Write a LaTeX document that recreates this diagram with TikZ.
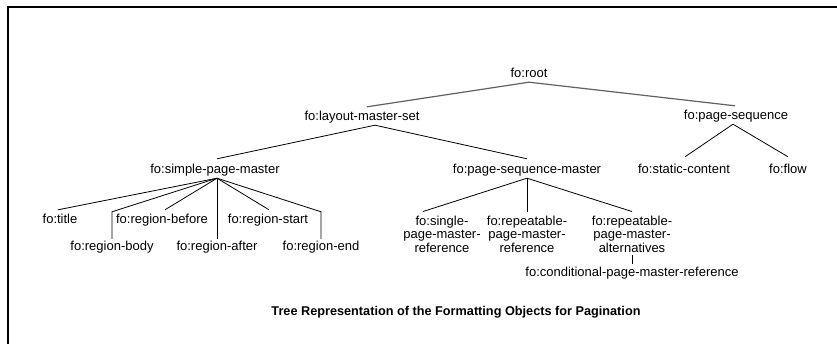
\documentclass[tikz,border=0pt]{standalone}
\usepackage{fontspec}
\setmainfont{Liberation Sans}
\begin{document}
\begin{tikzpicture}[x=1pt,y=-1pt,
  lbl/.style={font=\fontsize{13}{13.5}\selectfont, inner xsep=0pt, inner ysep=2pt, text height=9.5pt, text depth=2.5pt},
  mlbl/.style={font=\fontsize{13}{13.5}\selectfont, inner sep=0pt, align=center},
  topedge/.style={draw=black!62, line width=1.2pt},
  edge/.style={draw=black, line width=0.8pt}]
\useasboundingbox (0,0) rectangle (837,344);
\draw[line width=1.5pt] (8,344) -- (8,7) -- (837,7);

% level 0/1
\node[lbl] (root) at (529,74) {fo:root};
\node[lbl] (lms) at (362,117) {fo:layout-master-set};
\node[lbl] (ps) at (736,116) {fo:page-sequence};
% level 2
\node[lbl] (spm) at (215,170) {fo:simple-page-master};
\node[lbl] (psm) at (527,170) {fo:page-sequence-master};
\node[lbl] (sc) at (684,170) {fo:static-content};
\node[lbl] (flow) at (788,170) {fo:flow};
% level 3 (simple-page-master)
\node[lbl] (title) at (60,220) {fo:title};
\node[lbl] (rbefore) at (162,220) {fo:region-before};
\node[lbl] (rstart) at (268,220) {fo:region-start};
\node[lbl] (rbody) at (112,247) {fo:region-body};
\node[lbl] (rafter) at (217,247) {fo:region-after};
\node[lbl] (rend) at (321,247) {fo:region-end};
% level 3 (page-sequence-master)
\node[mlbl] (single) at (442,234) {fo:single-\\page-master-\\reference};
\node[mlbl] (repeat) at (527,234) {fo:repeatable-\\page-master-\\reference};
\node[mlbl] (alt) at (632,234) {fo:repeatable-\\page-master-\\alternatives};
\node[lbl] (cond) at (632,273) {fo:conditional-page-master-reference};
% caption
\node[font=\bfseries\fontsize{12.7}{14}\selectfont, inner sep=0pt] (cap) at (456,312) {Tree Representation of the Formatting Objects for Pagination};

% connectors
\draw[topedge] (root.south) -- ([xshift=5pt,yshift=2pt]lms.north);
\draw[topedge] (root.south) -- ([xshift=-1pt,yshift=2pt]ps.north);

\coordinate (la) at ([xshift=13pt]lms.south);
\draw[edge] (la) -- ([xshift=2pt,yshift=3pt]spm.north);
\draw[edge] (la) -- ([yshift=3pt]psm.north);

\coordinate (sa) at ([xshift=2pt]spm.south);
\draw[edge] (sa) -- ([xshift=-2pt,yshift=2pt]title.north);
\draw[edge] (sa) -- (rbody.north |- title.north) -- (rbody.north);
\draw[edge] (sa) -- ([xshift=3pt,yshift=2pt]rbefore.north);
\draw[edge] (sa) -- (sa |- rafter.north);
\draw[edge] (sa) -- ([xshift=1pt,yshift=2pt]rstart.north);
\draw[edge] (sa) -- (rend.north |- title.north) -- (rend.north);

\draw[edge] (psm.south) -- ([xshift=-19pt,yshift=4pt]single.north);
\draw[edge] (psm.south) -- ([yshift=4pt]repeat.north);
\draw[edge] (psm.south) -- ([yshift=4pt]alt.north);
\draw[edge] ([yshift=-3pt]alt.south) -- ([yshift=1pt]cond.north);

\coordinate (pa) at ([xshift=-3pt]ps.south);
\draw[edge] (pa) -- ([xshift=1pt,yshift=5pt]sc.north);
\draw[edge] (pa) -- ([yshift=5pt]flow.north);
\end{tikzpicture}
\end{document}
